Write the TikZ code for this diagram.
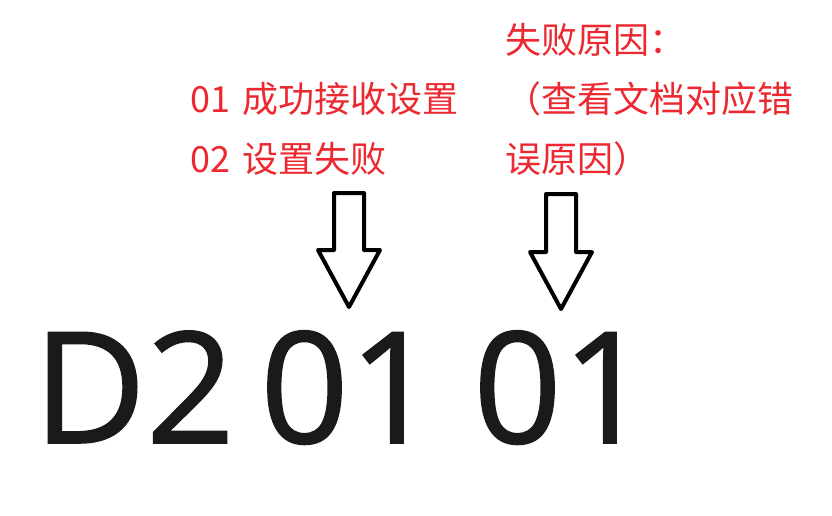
\documentclass[tikz,border=0pt]{standalone}
\usepackage{fontspec}
\setmainfont{Open Sans}
\newfontfamily\cjk{Noto Sans CJK SC}
\newfontfamily\codefont[FakeBold=1]{Open Sans}
\usepackage{xcolor}
\usetikzlibrary{positioning}
\definecolor{alert}{RGB}{236,40,48}
\definecolor{ink}{RGB}{26,26,26}

\begin{document}
\begin{tikzpicture}[x=1pt,y=-1pt,
  note/.style={text=alert,font=\cjk\fontsize{36}{40}\selectfont,inner sep=0pt,anchor=base west},
  code/.style={text=ink,font=\codefont\fontsize{155}{160}\selectfont,inner sep=0pt,anchor=base west},
  hollow/.style={draw=black,line width=4pt,line join=round,fill=white}]
\useasboundingbox (0,0) rectangle (832,516);
% red notes
\node[note] (okline) at (190,113) {01\hspace{4pt} 成功接收设置};
\node[note] (failline) at (190,172) {02\hspace{4pt} 设置失败};
\node[note] (whyhead) at (505,54) {失败原因：};
\node[note] (whymid) at (505,113) {（查看文档对应错};
\node[note] (whytail) at (505,172) {误原因）};
% frame code
\node[code] (head) at (33,443) {D2};
\node[code] (status) at (260,443) {01};
\node[code] (reason) at (473,443) {01};
% hollow arrows
\coordinate (tipA) at (349,307);
\coordinate (tipB) at (561,309);
\draw[hollow] (tipA) -- ++(-31,-57) -- ++(16,0) -- ++(0,-57) -- ++(30,0) -- ++(0,57) -- ++(16,0) -- cycle;
\draw[hollow] (tipB) -- ++(-31,-57) -- ++(16,0) -- ++(0,-58) -- ++(30,0) -- ++(0,58) -- ++(16,0) -- cycle;
\end{tikzpicture}
\end{document}
